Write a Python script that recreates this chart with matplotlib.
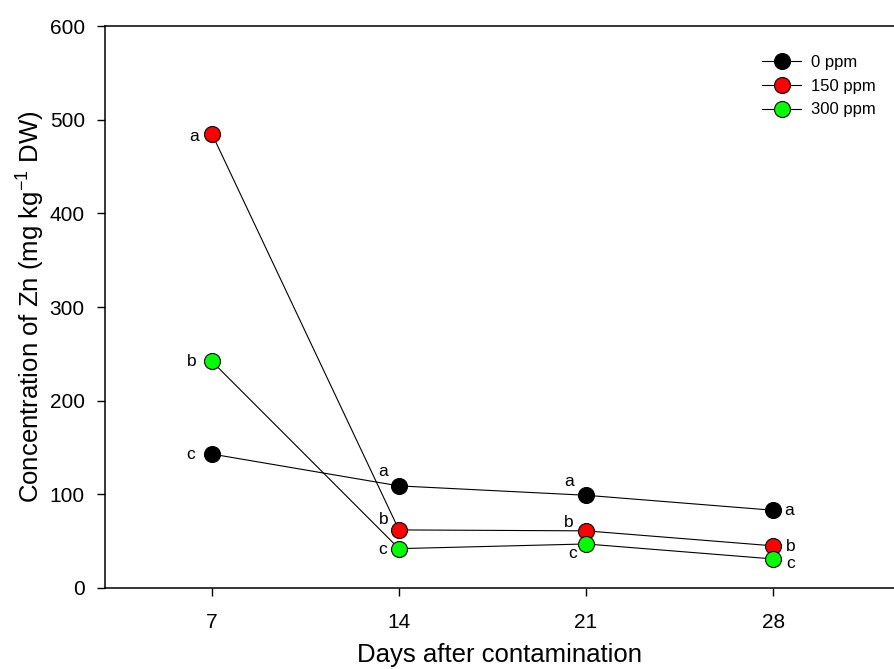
import matplotlib
matplotlib.use("Agg")
import matplotlib.pyplot as plt

plt.rcParams['font.family'] = ['Liberation Sans', 'DejaVu Sans']
plt.rcParams['mathtext.fontset'] = 'custom'
plt.rcParams['mathtext.rm'] = 'Liberation Sans'
plt.rcParams['mathtext.it'] = 'Liberation Sans:italic'
plt.rcParams['mathtext.default'] = 'regular'

days = [7, 14, 21, 28]
series_names = ['0 ppm', '150 ppm', '300 ppm']
zn_0 = [143, 109, 99, 83]
zn_150 = [485, 62, 61, 45]
zn_300 = [242, 42, 47, 31]
letters_0 = ['c', 'a', 'a', 'a']
letters_150 = ['a', 'b', 'b', 'b']
letters_300 = ['b', 'c', 'c', 'c']

colors = ['#000000', '#ff0000', '#00ff00']
# letter offsets (pixels)
offs_0 = [(-21, 0), (-16, 14), (-17, 14), (16, 0)]
offs_150 = [(-18, -3), (-15, 10), (-17, 8), (18, -1)]
offs_300 = [(-20, 0), (-16, -1), (-13, -10), (17, -5)]

fig = plt.figure(figsize=(8.95, 6.69), dpi=100)
ax = fig.add_axes([0.1173, 0.1211, 0.8827, 0.84])

for vals, lets, offs, c, name in zip([zn_0, zn_150, zn_300],
                                     [letters_0, letters_150, letters_300],
                                     [offs_0, offs_150, offs_300],
                                     colors, series_names):
    ax.plot(days, vals, '-o', color='black', lw=0.8, markersize=11.5,
            markerfacecolor=c, markeredgecolor='black', markeredgewidth=0.8,
            label=name, zorder=3)
    for x, y, l, (dx, dy) in zip(days, vals, lets, offs):
        ax.annotate(l, (x, y), xytext=(dx, dy), textcoords='offset pixels',
                    ha='center', va='center', fontsize=12.5)

ax.set_xlim(3, 32.56)
ax.set_ylim(0, 600)
ax.set_xticks(days)
ax.set_yticks([0, 100, 200, 300, 400, 500, 600])
ax.tick_params(axis='both', direction='out', length=6, width=1, labelsize=15)
ax.tick_params(axis='x', pad=12)
ax.tick_params(axis='y', pad=8.5)
ax.spines['right'].set_visible(False)
for s in ['left', 'bottom', 'top']:
    ax.spines[s].set_linewidth(1.1)

ax.set_xlabel('Days after contamination', fontsize=18.5, labelpad=8)
ax.set_ylabel('Concentration of Zn (mg kg$^{-1}$ DW)', fontsize=18.5, labelpad=2)

leg = ax.legend(loc='upper left', bbox_to_anchor=(762 / 895, 1 - 55 / 669),
                bbox_transform=fig.transFigure, frameon=False,
                fontsize=12, handlelength=2.35, handletextpad=0.6, labelspacing=0.52,
                borderpad=0, borderaxespad=0)

fig.savefig('out.png', dpi=100)
